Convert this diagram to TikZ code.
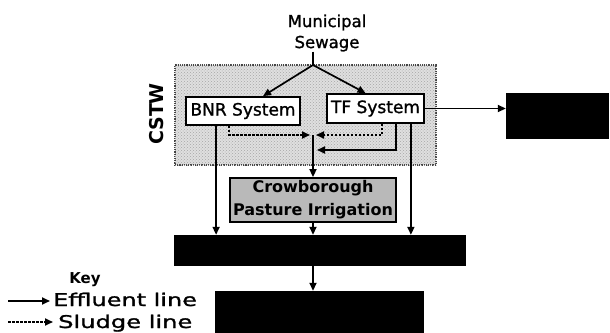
\documentclass[tikz,border=0pt]{standalone}
\usepackage{fontspec}
\setmainfont{DejaVu Sans}
\newfontfamily\heavy[FakeBold=1.2]{DejaVu Sans}
\usetikzlibrary{arrows.meta,calc,patterns}
\begin{document}
\begin{tikzpicture}[x=1pt,y=-1pt,
  eff/.style={-{Triangle[length=8pt,width=7pt]},line width=1.7pt},
  sludge/.style={-{Triangle[length=8pt,width=7pt]},line width=1.7pt,dash pattern=on 2.5pt off 1.5pt},
  sysbox/.style={draw,line width=1.8pt,fill=white,inner sep=0pt,font=\heavy\fontsize{17}{20}\selectfont},
  blackbox/.style={fill=black,draw=black,inner sep=0pt},
]
\useasboundingbox (0,0) rectangle (610,332);

% CSTW area
\node[draw=gray!50!black, densely dotted, line width=1.2pt, fill=gray!25,
      minimum width=261pt, minimum height=100pt, inner sep=0pt] (cstw) at (305.5,115) {};
\fill[pattern=crosshatch dots, pattern color=gray!70] (cstw.north west) rectangle (cstw.south east);
\node[font=\bfseries\fontsize{19}{22}\selectfont, rotate=90, inner sep=0pt] (cstwlbl) at (157,114) {CSTW};

% Source
\node[align=center, font=\heavy\fontsize{16.5}{21}\selectfont, inner sep=0pt] (muni) at (327,33) {Municipal\\Sewage};

% Systems
\node[sysbox, minimum width=114pt, minimum height=28pt] (bnr) at (243,111) {BNR System};
\node[sysbox, minimum width=97pt, minimum height=29pt] (tf) at (375.5,108.5) {TF System};

% Black boxes
\node[blackbox, minimum width=102pt, minimum height=45pt] (rbox) at (557,115.5) {};
\node[blackbox, minimum width=291pt, minimum height=30pt] (box1) at (319.5,250) {};
\node[blackbox, minimum width=208pt, minimum height=41pt] (box2) at (319,311.5) {};

% Crowborough
\node[draw, line width=1.8pt, fill=gray!55, minimum width=166pt, minimum height=44pt,
      inner sep=0pt, align=center, font=\bfseries\fontsize{16}{23}\selectfont] (crow) at (313,200)
      {Crowborough\\Pasture Irrigation};

% Inflow split
\coordinate (split) at (313,65);
\draw[line width=1.7pt] (split |- muni.south) -- (split);
\draw[eff] (split) -- ($(bnr.north)+(20,0)$);
\draw[eff] (split) -- ($(tf.north)+(-10,0)$);

% TF to right box
\draw[eff] (tf.east) -- (tf.east -| rbox.west);

% Effluent downward lines
\coordinate (bnrdown) at ($(bnr.south west)+(31,0)$);
\draw[eff] (bnrdown) -- (bnrdown |- box1.north);
\coordinate (tfdown) at ($(tf.south east)+(-14,0)$);
\draw[eff] (tfdown) -- (tfdown |- box1.north);
\coordinate (midj) at (313,135);
\draw[eff] (midj) -- (midj |- crow.north);
\draw[eff] (crow.south) -- (crow.south |- box1.north);
\draw[eff] (box1.south -| crow.south) -- (crow.south |- box2.north);

% Sludge lines
\coordinate (bnrsl) at ($(bnr.south west)+(44,0)$);
\coordinate (sl) at (310,135);
\draw[sludge] (bnrsl) |- (sl);
\coordinate (tfsl) at ($(tf.south west)+(56,0)$);
\coordinate (sr) at (316,135);
\draw[sludge] (tfsl) |- (sr);
\coordinate (tfret) at ($(tf.south west)+(70,0)$);
\coordinate (ret) at (317,150);
\draw[eff] (tfret) |- (ret);

% Key
\node[font=\bfseries\fontsize{15}{18}\selectfont, inner sep=0pt] (key) at (85,280) {Key};
\node[anchor=base west, inner sep=0pt] (efftxt) at (53,306)
  {\scalebox{1.37}[1]{\heavy\fontsize{17.5}{20}\selectfont Effluent line}};
\node[anchor=base west, inner sep=0pt] (sludtxt) at (58,328)
  {\scalebox{1.38}[1]{\heavy\fontsize{17.5}{20}\selectfont Sludge line}};
\coordinate (k1a) at (8,301);
\coordinate (k2a) at (8,322);
\draw[eff, shorten >=3pt] (k1a) -- (k1a -| efftxt.west);
\draw[sludge, shorten >=5pt] (k2a) -- (k2a -| sludtxt.west);
\end{tikzpicture}
\end{document}
